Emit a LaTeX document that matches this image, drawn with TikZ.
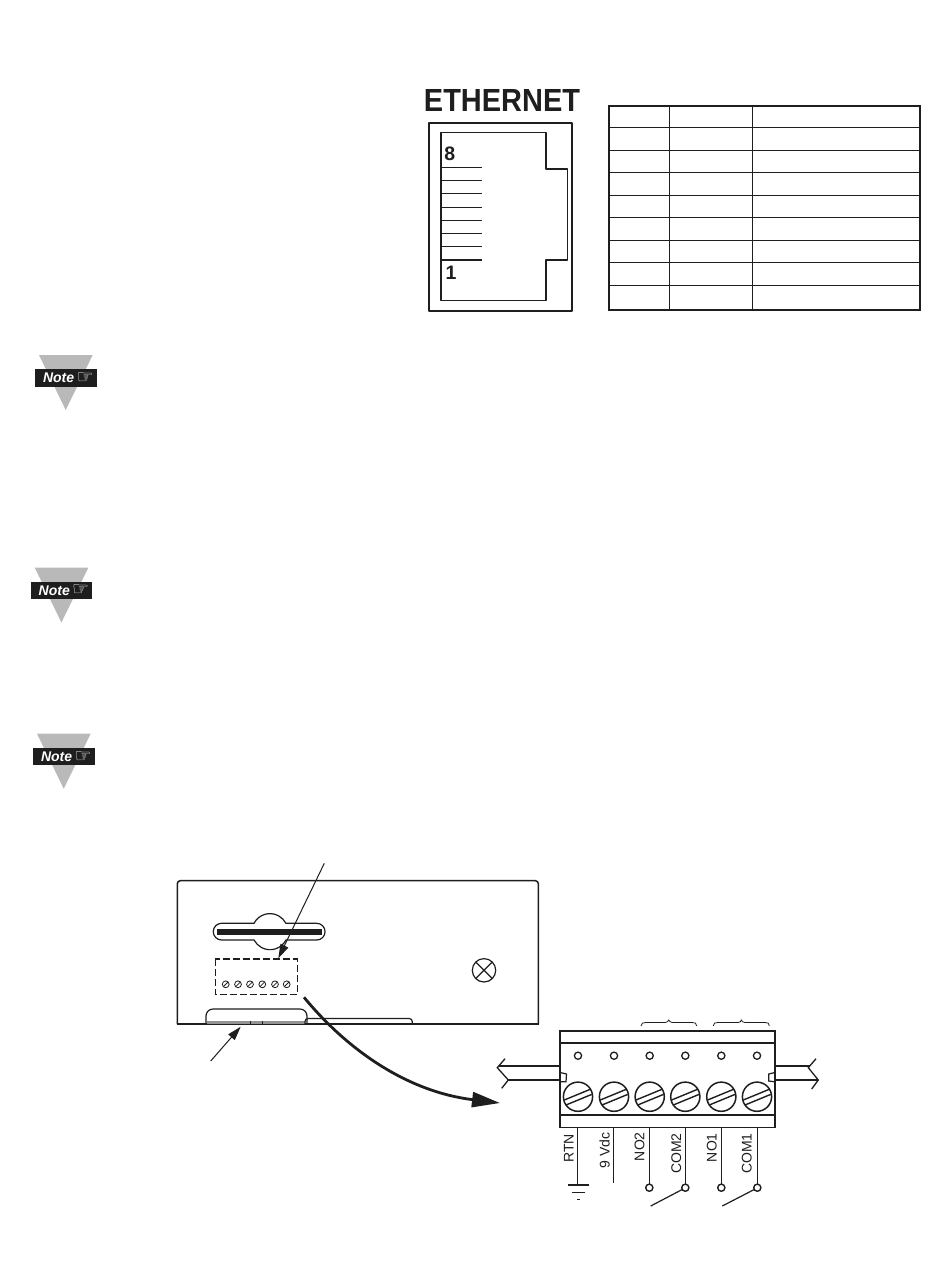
\documentclass[tikz,border=0pt]{standalone}
\usepackage{fontspec}
\setmainfont{Liberation Sans}
\newfontfamily\symfont{DejaVu Sans}
\usetikzlibrary{arrows.meta}
\definecolor{ink}{HTML}{1E1E1E}
\definecolor{notegray}{HTML}{B9B9B9}
\tikzset{
  inkline/.style={draw=ink,line width=#1},
  inkline/.default=1pt,
  walllabel/.style={rotate=90,anchor=east,inner sep=0pt,text=ink,font=\fontsize{14}{14}\selectfont},
  pinlabel/.style={inner sep=0pt,text=ink,font=\fontsize{19.5}{19.5}\selectfont\bfseries},
  notetext/.style={inner sep=0pt,text=white,font=\fontsize{14}{14}\selectfont\bfseries\itshape},
  notehand/.style={inner sep=0pt,text=white,font=\fontsize{19}{19}\selectfont\symfont},
  bigtip/.style={-{Triangle[length=28pt,width=15pt]}},
  midtip/.style={-{Triangle[length=14pt,width=8.5pt]}},
}
\newcommand{\noteicon}[3]{%
  \begin{scope}[shift={(#1,#2)}]
    \fill[notegray] (3.7,0) -- (57.4,0) -- (30.4,55) -- cycle;
    \fill[ink] (0,14.3) rectangle (61.4,31.7);
    \node[notetext,anchor=west] (note#3) at (7.5,23) {Note};
    \node[notehand,anchor=west] (hand#3) at (41,23) {☞};
  \end{scope}}
\begin{document}
\begin{tikzpicture}[x=1pt,y=-1pt]
\useasboundingbox (0,0) rectangle (950,1274);
\fill[white] (0,0) rectangle (950,1274);

% Ethernet jack
\node[inner sep=0pt,text=ink,xscale=.905,font=\fontsize{32}{32}\selectfont\bfseries] (eth) at (502,100.8) {ETHERNET};
\draw[inkline=1.8pt,line join=round] (429.3,122.8) rectangle (572,310.8);
\draw[inkline=1.7pt,line join=round] (441,132.5) -- (546,132.5) -- (546,169) -- (567.4,169) -- (567.4,260) -- (546,260) -- (546,300.5) -- (441,300.5) -- cycle;
\foreach \y in {167.7,180.7,193.7,207.7,220.7,233.7,246.7,260}
  \draw[inkline=1.3pt] (441,\y) -- (481.6,\y);
\node[pinlabel] (pin8) at (449.7,154) {8};
\node[pinlabel] (pin1) at (451,273) {1};

% Table
\draw[inkline=1.9pt] (609,106) rectangle (920,310);
\foreach \y in {127.3,150.3,172.3,195.3,217.3,240.3,262.3,285.3}
  \draw[inkline=1.1pt] (609,\y) -- (920,\y);
\foreach \x in {669.6,752.6}
  \draw[inkline=1.2pt] (\x,106) -- (\x,310);

% Note icons
\noteicon{35.3}{355}{a}
\noteicon{31}{567.5}{b}
\noteicon{33.3}{733.7}{c}

% Device front panel
\draw[inkline=1.5pt,rounded corners=3pt] (177.3,1024) -- (177.3,880.7) -- (538.3,880.7) -- (538.3,1024);
\draw[inkline=1.5pt] (176.6,1024) -- (539,1024);
\draw[inkline=1.2pt,fill=white] (221.6,923.3) -- (254,923.3) arc[start angle=152.5,end angle=27.5,radius=18pt] -- (316.7,923.3) arc[start angle=90,end angle=-90,radius=8.35pt] -- (286,940) arc[start angle=-27.5,end angle=-152.5,radius=18pt] -- (221.6,940) arc[start angle=270,end angle=90,radius=8.35pt] -- cycle;
\fill[ink] (217.3,929) rectangle (322.3,935);
\draw[inkline=1.1pt,dash pattern=on 7pt off 3pt] (215.3,959) rectangle (297.3,994.3);
\foreach \x in {225.7,238,250,262.3,275,286.7} {
  \draw[inkline=.8pt] (\x,984.3) circle[radius=3.4];
  \draw[inkline=.8pt] (\x-2.3,986.6) -- (\x+2.3,982);
}
\draw[inkline=1.2pt] (484,970.3) circle[radius=11.7];
\draw[inkline=1.2pt] (475.8,962.1) -- (492.2,978.5) (475.8,978.5) -- (492.2,962.1);
\fill[gray!85] (206.7,1021) rectangle (305,1024);
\draw[inkline=1.2pt,rounded corners=7pt] (206,1024) -- (206,1009) -- (307,1009) -- (307,1024);
\draw[inkline=.9pt] (250.7,1021) -- (250.7,1024) (262,1021) -- (262,1024);
\draw[inkline=1.2pt,rounded corners=3pt] (305,1024) -- (305,1018.5) -- (412.3,1018.5) -- (412.3,1024);

% Pointers
\coordinate (portfree) at (324.3,863.3);
\coordinate (porttip) at (278.3,958.3);
\draw[inkline=1pt,midtip] (portfree) -- (porttip);
\coordinate (usbfree) at (210.7,1061);
\coordinate (usbtip) at (240.7,1026.7);
\draw[inkline=1pt,midtip] (usbfree) -- (usbtip);
\coordinate (curvefrom) at (304,997.3);
\coordinate (curveto) at (500,1103);
\draw[inkline=2.8pt,bigtip] (curvefrom) .. controls (350,1053) and (410,1092) .. (curveto);

% Terminal block
\draw[inkline=1.6pt] (560,1030.7) rectangle (775,1127.3);
\draw[inkline=1.6pt] (560,1042.7) -- (775,1042.7) (560,1115) -- (775,1115);
\foreach \x in {578,614,649.7,685.3,721.3,757} {
  \draw[inkline=1.3pt] (\x,1055.7) circle[radius=3.6];
  \draw[inkline=1.5pt] (\x,1096.7) circle[radius=14.6];
  \draw[inkline=1.4pt] (\x-13.7,1100) -- (\x+12,1089.4);
  \draw[inkline=1.4pt] (\x-12,1105) -- (\x+13.7,1094.4);
}
\draw[inkline=1.3pt] (560,1066) -- (499,1066);
\draw[inkline=1.3pt] (560,1080) -- (508.3,1080);
\draw[inkline=1.3pt] (505,1058.7) -- (497.3,1067.7) -- (508.3,1080) -- (501.7,1088.3);
\draw[inkline=1.3pt] (775,1066) -- (810,1066);
\draw[inkline=1.3pt] (775,1080) -- (818.3,1080);
\draw[inkline=1.3pt] (816,1058.7) -- (808.3,1067.7) -- (818.3,1080) -- (811.7,1089);
\draw[inkline=1.2pt] (561,1072.7) -- (566.5,1074) -- (566,1081.7) -- (561,1081.7);
\draw[inkline=1.2pt] (774,1072.7) -- (768.7,1074) -- (768.7,1081) -- (774,1081.7);
\draw[inkline=.8pt] (641,1026) .. controls (641,1023) and (643,1022.5) .. (646,1022.5) -- (665,1022.5) .. controls (667,1022.5) and (668,1021.5) .. (668.8,1020) .. controls (669.6,1021.5) and (670.6,1022.5) .. (672.6,1022.5) -- (692,1022.5) .. controls (695,1022.5) and (696.7,1023) .. (696.7,1026);
\draw[inkline=.8pt] (713.3,1026) .. controls (713.3,1023) and (715,1022.5) .. (718,1022.5) -- (738,1022.5) .. controls (740,1022.5) and (741,1021.5) .. (741.3,1020) .. controls (742,1021.5) and (743,1022.5) .. (745,1022.5) -- (765,1022.5) .. controls (768,1022.5) and (769.3,1023) .. (769.3,1026);

% Wires
\draw[inkline=1.4pt] (577.7,1127.3) -- (577.7,1185);
\draw[inkline=1.6pt] (567.7,1185) -- (589.3,1185);
\draw[inkline=1.6pt] (571.7,1192.3) -- (585,1192.3);
\draw[inkline=1.6pt] (577.3,1199.3) -- (580,1199.3);
\draw[inkline=1.4pt] (613.3,1127.3) -- (613.3,1183.3);
\foreach \x in {649.3,685.3,721.3,757.3} {
  \draw[inkline=1.4pt] (\x,1127.3) -- (\x,1184);
  \draw[inkline=1.4pt,fill=white] (\x,1187.7) circle[radius=3.6];
}
\draw[inkline=1.2pt] (682,1189.6) -- (650.7,1206);
\draw[inkline=1.2pt] (754,1189.6) -- (722.3,1206);

\node[walllabel] (lrtn) at (568.7,1134) {RTN};
\node[walllabel] (lvdc) at (604.5,1132) {9 Vdc};
\node[walllabel] (lno2) at (639.5,1132) {NO2};
\node[walllabel] (lcom2) at (676.2,1133) {COM2};
\node[walllabel] (lno1) at (711.8,1133) {NO1};
\node[walllabel] (lcom1) at (746.8,1133) {COM1};
\end{tikzpicture}
\end{document}
